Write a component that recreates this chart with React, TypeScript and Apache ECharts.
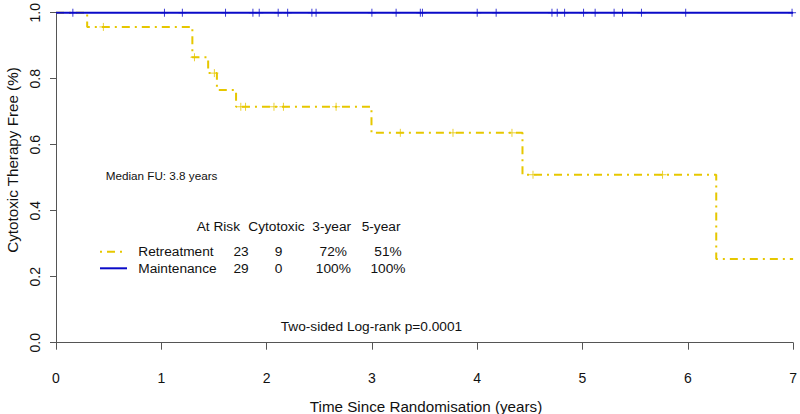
import React, { useEffect, useRef } from "react";
import * as echarts from "echarts";

// Retreatment Kaplan-Meier step points (time in years, survival)
const retreatTimes = [0, 0.296, 1.295, 1.445, 1.528, 1.71, 2.996, 4.43, 6.27, 7];
const retreatSurv = [1.0, 0.957, 0.865, 0.817, 0.766, 0.715, 0.636, 0.509, 0.254, 0.254];
// Retreatment censor marks
const retreatCensorTimes = [0.45, 1.315, 1.504, 1.755, 1.8, 2.07, 2.16, 2.66, 3.27, 3.77, 4.33, 4.53, 5.76];
const retreatCensorSurv = [0.957, 0.865, 0.817, 0.715, 0.715, 0.715, 0.715, 0.715, 0.636, 0.636, 0.636, 0.509, 0.509];

// Maintenance curve (no events)
const maintTimes = [0, 7];
const maintSurv = [1.0, 1.0];
const maintCensorTimes = [0.16, 1.03, 1.2, 1.61, 1.87, 1.93, 2.11, 2.2, 2.43, 2.47, 3.0, 3.23, 3.46, 3.48, 4.0, 4.18, 4.71, 4.76, 4.83, 5.01, 5.12, 5.3, 5.38, 5.56, 5.98, 6.99];

// Legend table
const tableHeaders = ["At Risk", "Cytotoxic", "3-year", "5-year"];
const groupNames = ["Retreatment", "Maintenance"];
const atRisk = ["23", "29"];
const cytotoxic = ["9", "0"];
const year3 = ["72%", "100%"];
const year5 = ["51%", "100%"];

const xTicks = { min: 0, max: 7, interval: 1 };
const yTicks = { min: 0, max: 1, interval: 0.2 };

const YELLOW = "#E6C700";
const BLUE = "#0A0AC8";
const AXIS = "#555555";
const TEXT = "#111111";
const FONT = "Liberation Sans, Arial, sans-serif";
const PLUS = "path://M5,0L5,10M0,5L10,5";

export default function App() {
  const ref = useRef<HTMLDivElement>(null);
  useEffect(() => {
    if (!ref.current) return;
    const chart = echarts.init(ref.current, undefined, { renderer: "svg" });

    const headerX = [196.7, 248.3, 312.3, 361.7];
    const colCenters = [241, 278.5, 333.3, 388];
    const rowY = [251.7, 268.3];
    const cols = [atRisk, cytotoxic, year3, year5];
    const graphics: any[] = [];
    tableHeaders.forEach((h, i) => {
      graphics.push({
        type: "text", x: headerX[i], y: 226.7,
        style: { text: h, fill: TEXT, font: `13.7px ${FONT}`, align: "left", verticalAlign: "middle" },
      });
    });
    groupNames.forEach((g, r) => {
      graphics.push({
        type: "line",
        shape: { x1: 100, y1: rowY[r], x2: 127, y2: rowY[r] },
        style: r === 0
          ? { stroke: YELLOW, lineWidth: 2, lineDash: [2, 5, 8, 5] }
          : { stroke: BLUE, lineWidth: 2 },
      });
      graphics.push({
        type: "text", x: 138.3, y: rowY[r],
        style: { text: g, fill: TEXT, font: `13.7px ${FONT}`, align: "left", verticalAlign: "middle" },
      });
      cols.forEach((c, ci) => {
        graphics.push({
          type: "text", x: colCenters[ci], y: rowY[r],
          style: { text: c[r], fill: TEXT, font: `13.7px ${FONT}`, align: "center", verticalAlign: "middle" },
        });
      });
    });
    graphics.push({
      type: "text", x: 105.7, y: 175,
      style: { text: "Median FU: 3.8 years", fill: TEXT, font: `11.7px ${FONT}`, align: "left", verticalAlign: "middle" },
    });
    graphics.push({
      type: "text", x: 280.7, y: 326,
      style: { text: "Two-sided Log-rank p=0.0001", fill: TEXT, font: `13.7px ${FONT}`, align: "left", verticalAlign: "middle" },
    });
    graphics.push({
      type: "text", x: 426, y: 406,
      style: { text: "Time Since Randomisation (years)", fill: TEXT, font: `15.2px ${FONT}`, align: "center", verticalAlign: "middle" },
    });
    graphics.push({
      type: "text", x: 12, y: 160, rotation: Math.PI / 2,
      style: { text: "Cytotoxic Therapy Free (%)", fill: TEXT, font: `15.2px ${FONT}`, align: "center", verticalAlign: "middle" },
    });

    chart.setOption({
      animation: false,
      backgroundColor: "#ffffff",
      grid: { left: 56, right: 4, top: 9, bottom: 71.3 },
      xAxis: {
        type: "value",
        min: xTicks.min, max: xTicks.max, interval: xTicks.interval,
        offset: 14,
        axisLine: { show: true, lineStyle: { color: AXIS, width: 1 } },
        axisTick: { show: true, length: 7, lineStyle: { color: AXIS } },
        axisLabel: { color: TEXT, fontSize: 14, fontFamily: FONT, margin: 14 },
        splitLine: { show: false },
      },
      yAxis: {
        type: "value",
        min: yTicks.min, max: yTicks.max, interval: yTicks.interval,
        offset: 1,
        axisLine: { show: true, lineStyle: { color: AXIS, width: 1 } },
        axisTick: { show: true, length: 6, lineStyle: { color: AXIS } },
        axisLabel: {
          color: TEXT, fontSize: 14, fontFamily: FONT, margin: 13, rotate: 90,
          formatter: (v: number) => v.toFixed(1),
        },
        splitLine: { show: false },
      },
      graphic: graphics,
      series: [
        {
          type: "line",
          step: "end",
          clip: false,
          showSymbol: false,
          data: retreatTimes.map((t, i) => [t, retreatSurv[i]]),
          lineStyle: { color: YELLOW, width: 2, type: [8, 5, 2, 5] },
          z: 2,
        },
        {
          type: "scatter",
          clip: false,
          symbol: PLUS,
          symbolSize: 8,
          data: retreatCensorTimes.map((t, i) => [t, retreatCensorSurv[i]]),
          itemStyle: { color: "none", borderColor: YELLOW, borderWidth: 1 },
          z: 3,
        },
        {
          type: "line",
          clip: false,
          showSymbol: false,
          data: maintTimes.map((t, i) => [t, maintSurv[i]]),
          lineStyle: { color: BLUE, width: 2.2 },
          z: 4,
        },
        {
          type: "scatter",
          clip: false,
          symbol: PLUS,
          symbolSize: 8,
          data: maintCensorTimes.map((t) => [t, 1.0]),
          itemStyle: { color: "none", borderColor: BLUE, borderWidth: 1 },
          z: 5,
        },
      ],
    });
    return () => chart.dispose();
  }, []);
  return (
    <div
      ref={ref}
      style={{ position: "fixed", left: 0, top: 0, width: 800, height: 414, background: "#fff" }}
    />
  );
}
